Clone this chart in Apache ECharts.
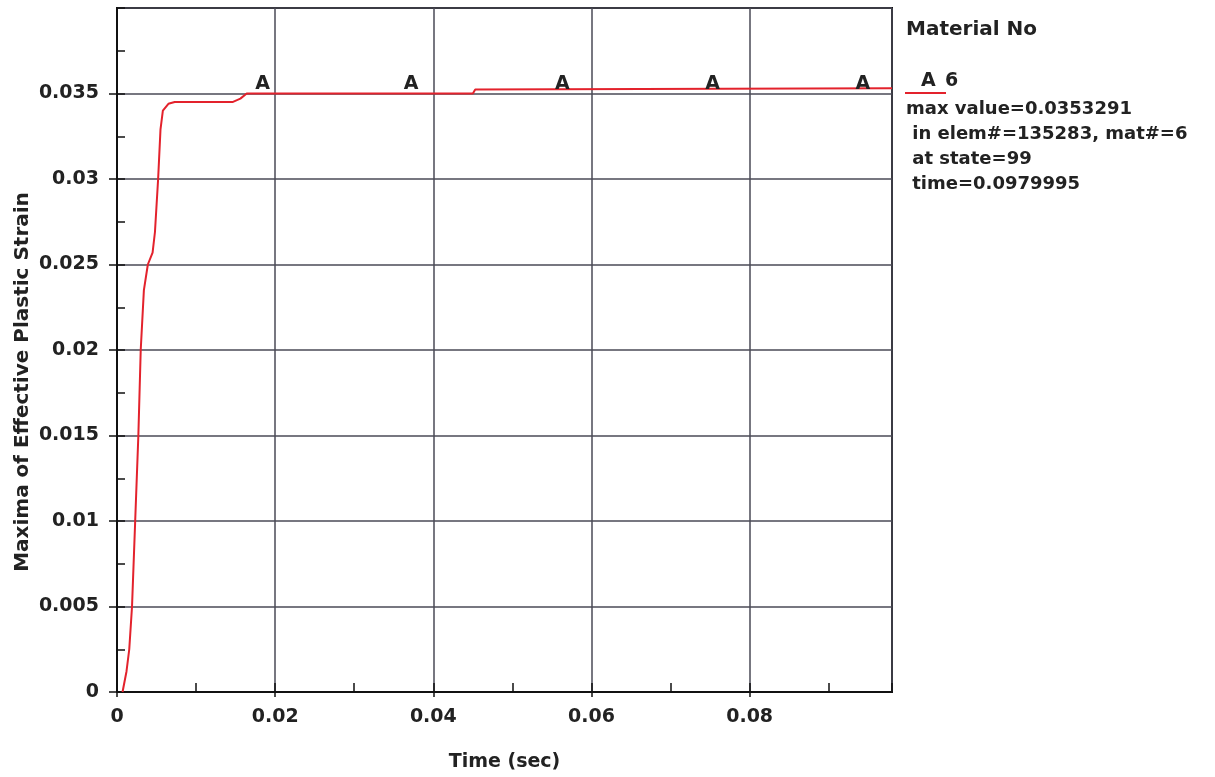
<!DOCTYPE html>
<html lang="en">
<head>
	<meta charset="UTF-8">
	<title>Maxima of Effective Plastic Strain</title>
	<script type="text/javascript" src="https://cdn.jsdelivr.net/npm/echarts@6/dist/echarts.min.js"></script>
	<style type="text/css">
		html,body{margin:0;padding:0;background:#fff;}
	</style>
</head>
<body>
	<div id="main" style="width:1215px;height:777px;"></div>
	<script>
		// curve
		var timeSec = [0.0007, 0.0012, 0.00155, 0.0019, 0.0023, 0.0027, 0.0030, 0.0034, 0.0039, 0.0045, 0.0048, 0.0052, 0.0055, 0.0058, 0.0065, 0.0073, 0.0146, 0.0156, 0.0164, 0.0450, 0.0453, 0.0980];
		var strain  = [0, 0.0012, 0.0025, 0.0050, 0.0100, 0.0150, 0.0200, 0.0235, 0.0250, 0.0257, 0.0269, 0.0300, 0.0329, 0.0340, 0.0344, 0.0345, 0.0345, 0.0347, 0.0350, 0.0350, 0.03524, 0.03530];
		// "A" labels along the curve
		var markTime   = [0.0184, 0.0372, 0.0563, 0.0753, 0.0943];
		var markStrain = [0.0350, 0.0350, 0.0350, 0.0350, 0.0350];
		var infoLines = ['max value=0.0353291', ' in elem#=135283, mat#=6', ' at state=99', ' time=0.0979995'];

		var font = '"DejaVu Sans", sans-serif';
		var txt = '#222';
		var gridCol = '#4a4a56';

		var curve = [];
		for (var i = 0; i < timeSec.length; i++) curve.push([timeSec[i], strain[i]]);
		var marks = [];
		for (var j = 0; j < markTime.length; j++) marks.push([markTime[j], markStrain[j]]);

		var chart = echarts.init(document.getElementById('main'));
		var option = {
			backgroundColor: '#fff',
			animation: false,
			grid: {left: 117, right: 323, top: 8, bottom: 85, show: true, borderColor: '#111', borderWidth: 2, backgroundColor: '#fff'},
			xAxis: [{
				type: 'value', min: 0, max: 0.098, interval: 0.02,
				name: 'Time (sec)', nameLocation: 'middle', nameGap: 61,
				nameTextStyle: {fontFamily: font, fontWeight: 'bold', fontSize: 19, color: txt},
				axisLine: {lineStyle: {color: '#111', width: 2}},
				axisTick: {length: 5, lineStyle: {color: '#111', width: 1.5}},
				axisLabel: {margin: 16, fontFamily: font, fontWeight: 'bold', fontSize: 19, color: txt, showMaxLabel: false},
				splitLine: {show: true, lineStyle: {color: gridCol, width: 1.5}}
			}, {
				type: 'value', min: 0, max: 0.098, interval: 0.01, position: 'bottom',
				axisLine: {show: false},
				axisTick: {inside: true, length: 9, lineStyle: {color: '#111', width: 1.5}},
				axisLabel: {show: false},
				splitLine: {show: false}
			}],
			yAxis: [{
				type: 'value', min: 0, max: 0.04, interval: 0.005,
				name: 'Maxima of Effective Plastic Strain', nameLocation: 'middle', nameGap: 84, nameMoveOverlap: false,
				nameTextStyle: {fontFamily: font, fontWeight: 'bold', fontSize: 20, color: txt, padding: [0, 64, 0, 0]},
				axisLine: {lineStyle: {color: '#111', width: 2}},
				axisTick: {length: 8, lineStyle: {color: '#111', width: 1.5}},
				axisLabel: {margin: 18, fontFamily: font, fontWeight: 'bold', fontSize: 19, color: txt, showMaxLabel: false},
				splitLine: {show: true, lineStyle: {color: gridCol, width: 1.5}}
			}, {
				type: 'value', min: 0, max: 0.04, interval: 0.0025, position: 'left',
				axisLine: {show: false},
				axisTick: {inside: true, length: 8, lineStyle: {color: '#111', width: 1.5}},
				axisLabel: {show: false},
				splitLine: {show: false}
			}],
			series: [{
				type: 'line', data: curve, symbol: 'none', z: 5,
				lineStyle: {color: '#e3222c', width: 2}
			}, {
				type: 'scatter', data: marks, symbolSize: 0, z: 6,
				itemStyle: {color: txt, opacity: 1},
				label: {show: true, formatter: 'A', position: 'inside', offset: [0, -9],
					fontFamily: font, fontWeight: 'bold', fontSize: 19, color: txt}
			}],
			graphic: [
				{type: 'text', left: 906, top: 20, style: {text: 'Material No', font: 'bold 20px ' + font, fill: txt}},
				{type: 'line', shape: {x1: 905, y1: 93, x2: 946, y2: 93}, style: {stroke: '#e3222c', lineWidth: 2}},
				{type: 'text', left: 921, top: 72, style: {text: 'A', font: 'bold 19px ' + font, fill: txt}},
				{type: 'text', left: 945, top: 72, style: {text: '6', font: 'bold 19px ' + font, fill: txt}},
				{type: 'text', left: 906, top: 97, style: {text: infoLines.join('\n'), font: 'bold 18px ' + font, fill: txt, lineHeight: 25}}
			]
		};
		chart.setOption(option);
	</script>
</body>
</html>
